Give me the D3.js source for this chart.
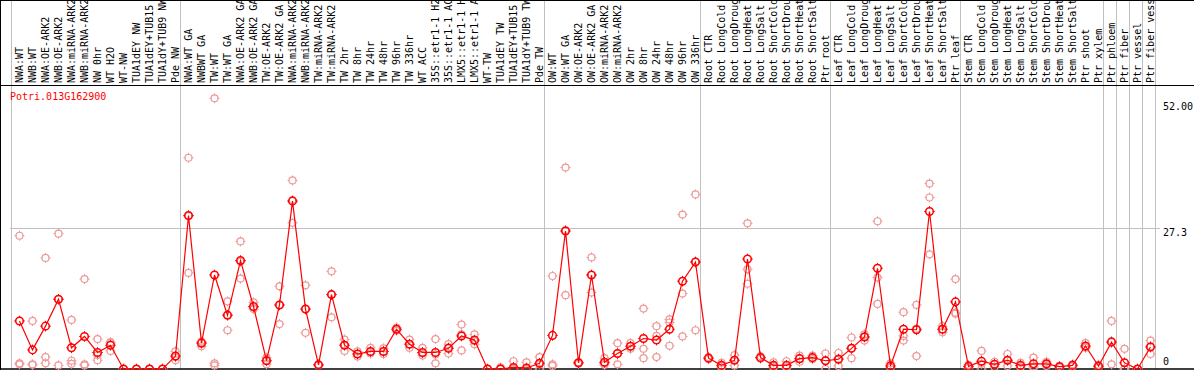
<!DOCTYPE html>
<html>
<head>
<meta charset="utf-8">
<script src="https://cdn.jsdelivr.net/npm/d3@7"></script>
<style>
  body { margin: 0; background: #fff; }
  svg { display: block; }
  text { font-family: "DejaVu Sans Mono", monospace; font-size: 10px; }
</style>
</head>
<body>
<div id="chart"></div>
<script>
const geneName = "Potri.013G162900";

const labels = [
  "NWA:WT", "NWB:WT", "NWA:OE-ARK2", "NWB:OE-ARK2", "NWA:miRNA-ARK2", "NWB:miRNA-ARK2",
  "NW 0hr", "WT H2O", "WT-NW", "TUA1dEY NW", "TUA1dEY+TUB15 NW", "TUA1dY+TUB9 NW", "Pde NW",
  "NWA:WT GA", "NWBWT GA", "TW:WT", "TW:WT GA", "NWA:OE-ARK2 GA", "NWB:OE-ARK2 GA",
  "TW:OE-ARK2", "TW:OE-ARK2 GA", "NWA:miRNA-ARK2 GA", "NWB:miRNA-ARK2 GA", "TW:miRNA-ARK2",
  "TW:miRNA-ARK2 GA", "TW 2hr", "TW 8hr", "TW 24hr", "TW 48hr", "TW 96hr", "TW 336hr",
  "WT ACC", "35S::etr1-1 H2O", "35S::etr1-1 ACC", "LMX5::etr1-1 H2O", "LMX5::etr1-1 ACC",
  "WT-TW", "TUA1dEY TW", "TUA1dEY+TUB15 TW", "TUA1dY+TUB9 TW", "Pde TW",
  "OW:WT", "OW:WT GA", "OW:OE-ARK2", "OW:OE-ARK2 GA", "OW:miRNA-ARK2", "OW:miRNA-ARK2 GA",
  "OW 2hr", "OW 8hr", "OW 24hr", "OW 48hr", "OW 96hr", "OW 336hr",
  "Root CTR", "Root LongCold", "Root LongDrought", "Root LongHeat", "Root LongSalt",
  "Root ShortCold", "Root ShortDrought", "Root ShortHeat", "Root ShortSalt", "Ptr root",
  "Leaf CTR", "Leaf LongCold", "Leaf LongDrought", "Leaf LongHeat", "Leaf LongSalt",
  "Leaf ShortCold", "Leaf ShortDrought", "Leaf ShortHeat", "Leaf ShortSalt", "Ptr leaf",
  "Stem CTR", "Stem LongCold", "Stem LongDrought", "Stem LongHeat", "Stem LongSalt",
  "Stem ShortCold", "Stem ShortDrought", "Stem ShortHeat", "Stem ShortSalt", "Ptr shoot", "Ptr xylem",
  "Ptr phloem", "Ptr fiber", "Ptr vessel", "Ptr fiber vessel"
];

// first column of each group (grey separators)
const groupStarts = [0, 13, 41, 53, 63, 73, 84, 85, 86, 87];

const means = [
  9.3, 3.7, 8.3, 13.5, 4.1, 6.3, 3.2, 4.6, 0, 0, 0, 0, 2.5,
  29.7, 5.0, 18.2, 10.4, 21.0, 12.1, 1.6, 12.4, 32.5, 11.6, 0.8, 14.4, 4.6, 2.9, 3.4, 3.4,
  7.7, 4.8, 3.2, 3.2, 4.0, 6.4, 5.6, 0, 0, 0.3, 0.2, 1.1,
  6.5, 26.7, 1.2, 18.2, 1.3, 3.0, 4.4, 5.9, 5.6, 7.7, 17.0, 20.7,
  2.1, 0.7, 1.7, 21.3, 2.2, 0.7, 0.7, 2.0, 2.2, 1.6,
  1.9, 4.0, 6.2, 19.5, 0.6, 7.7, 7.6, 30.5, 7.7, 13.0,
  0.5, 1.5, 0.9, 1.7, 0.7, 1.0, 1.0, 0.45, 0.7, 4.45, 0.55,
  5.2, 1.2, 0, 4.25
];

const replicates = [
  [25.8, 1.1, 0.9], [9.3, 0.9, 0.8], [21.5, 2.3, 1.1], [26.2, 13.5, 0.7], [9.5, 1.6, 1.0],
  [17.4, 0.9, 0.7], [5.8, 2.7, 1.7], [5.2, 5.0, 3.5], [0, 0, 0], [0, 0, 0], [0, 0, 0],
  [0, 0, 0], [3.4, 2.3, 1.7],
  [40.9, 29.6, 18.6], [5.3, 5.2, 4.4], [52.4, 1.1, 0.7], [13.1, 10.5, 7.5], [24.7, 20.8, 17.5],
  [12.9, 11.9, 11.6], [2.2, 1.7, 0.9], [16.0, 12.4, 8.7], [36.5, 32.7, 28.3], [16.2, 11.6, 7.0],
  [0.9, 0.8, 0.7], [18.9, 14.4, 10.0], [5.7, 4.6, 3.5], [3.4, 2.9, 2.4], [4.1, 3.3, 3.0],
  [4.0, 3.4, 2.9], [8.0, 7.7, 7.4], [5.7, 4.8, 4.1], [4.1, 3.0, 2.6], [5.8, 2.8, 1.1],
  [4.8, 4.2, 3.0], [8.6, 6.7, 3.6], [6.7, 5.4, 4.8], [0, 0, 0], [0.3, 0, 0], [1.5, 0, 0],
  [1.3, 0, 0], [2.3, 0.9, 0],
  [18.0, 0.9, 0.6], [39.0, 26.9, 14.3], [1.3, 1.2, 1.0], [21.6, 18.2, 14.8], [2.1, 1.1, 0.8],
  [5.0, 3.0, 0.9], [5.0, 4.4, 3.9], [11.7, 3.9, 2.1], [8.3, 6.4, 2.3], [9.6, 9.0, 4.5],
  [29.9, 14.6, 6.3], [33.8, 20.8, 7.5],
  [2.3, 2.1, 1.9], [1.2, 0.6, 0.3], [2.7, 1.7, 0.7], [28.2, 19.3, 16.5], [2.5, 2.2, 2.0],
  [1.3, 0.6, 0.3], [1.5, 0.5, 0.2], [2.6, 2.0, 1.4], [2.6, 2.2, 1.9], [3.0, 1.6, 0],
  [3.1, 2.0, 0.6], [6.1, 4.0, 2.1], [6.7, 6.3, 5.5], [28.6, 17.7, 12.6], [1.1, 0.5, 0.3],
  [11.0, 6.4, 5.5], [12.4, 7.8, 2.5], [35.9, 33.2, 22.2], [8.3, 7.7, 7.1], [17.4, 10.9, 10.7],
  [0.8, 0.5, 0.2], [3.5, 1.0, 0], [1.4, 0.9, 0.4], [2.9, 1.6, 0.6], [1.2, 0.6, 0.3],
  [2.2, 0.5, 0.2], [1.4, 0.9, 0.6], [0.6, 0.4, 0.3], [0.9, 0.7, 0.5], [5.0, 4.3, 4.1],
  [0.8, 0.5, 0.3],
  [9.3, 5.4, 0.9], [3.9, 0, 0], [0, 0, 0], [5.5, 4.4, 2.9]
];

const yTickValues = [52, 27.3, 0];
const yTickLabels = ["52.00", "27.3", "0"];

const width = 1194;
const height = 370;
const headerHeight = 85;

const svg = d3
  .select("#chart")
  .append("svg")
  .attr("width", width)
  .attr("height", height);

const x = d3
  .scaleBand()
  .domain(d3.range(labels.length))
  .range([11, 1155]);
const cx = (i) => x(i) + 8.5;

const y = d3.scaleLinear().domain([0, 52]).range([369, 100.4]);

// grey separators between sample groups, full height
svg
  .append("g")
  .selectAll("line")
  .data(groupStarts.concat([labels.length]))
  .join("line")
  .attr("x1", (d) => (d === labels.length ? 1155.5 : x(d) + 0.5))
  .attr("x2", (d) => (d === labels.length ? 1155.5 : x(d) + 0.5))
  .attr("y1", 0)
  .attr("y2", height)
  .attr("stroke", "#c0c0c0");

svg
  .append("line")
  .attr("x1", 10)
  .attr("x2", 1160)
  .attr("y1", Math.round(y(27.3)) + 0.5)
  .attr("y2", Math.round(y(27.3)) + 0.5)
  .attr("stroke", "#c0c0c0");

// frame
svg.append("line").attr("x1", 0).attr("x2", width).attr("y1", 0.5).attr("y2", 0.5).attr("stroke", "#000");
svg.append("line").attr("x1", 0).attr("x2", width).attr("y1", headerHeight + 0.5).attr("y2", headerHeight + 0.5).attr("stroke", "#000");
svg.append("line").attr("x1", 0.5).attr("x2", 0.5).attr("y1", 0).attr("y2", height).attr("stroke", "#000");
svg.append("line").attr("x1", 0).attr("x2", width).attr("y1", y(0)).attr("y2", y(0)).attr("stroke", "#000").attr("stroke-width", 1.5);

// sample names, rotated and clipped to the header
svg
  .append("clipPath")
  .attr("id", "headClip")
  .append("rect")
  .attr("x", 0)
  .attr("y", 0)
  .attr("width", width)
  .attr("height", headerHeight);

svg
  .append("g")
  .attr("clip-path", "url(#headClip)")
  .selectAll("text")
  .data(labels)
  .join("text")
  .attr("transform", (d, i) => `translate(${cx(i) + 3.5}, ${headerHeight - 2}) rotate(-90)`)
  .attr("fill", "#000")
  .text((d) => d);

svg
  .append("text")
  .attr("x", 10)
  .attr("y", 100)
  .attr("fill", "#ff0000")
  .text(geneName);

// right-hand value labels
svg
  .append("g")
  .selectAll("text")
  .data(yTickValues)
  .join("text")
  .attr("x", 1163)
  .attr("y", (d, i) => y(d) + (i === 0 ? 10 : i === 1 ? 8 : -4))
  .attr("fill", "#000")
  .text((d, i) => yTickLabels[i]);

const marker = (g, r, color, sw) => {
  g.append("circle").attr("r", r).attr("fill", "none").attr("stroke", color).attr("stroke-width", sw);
  g.append("path")
    .attr("d", `M0,${-r - 1.5}V${-r + 0.5}M0,${r - 0.5}V${r + 1.5}M${-r - 1.5},0H${-r + 0.5}M${r - 0.5},0H${r + 1.5}`)
    .attr("stroke", color)
    .attr("stroke-width", 1);
};

// replicate values
const repPoints = [];
replicates.forEach((vals, i) => vals.forEach((v) => repPoints.push({ i, v })));

svg
  .append("g")
  .selectAll("g")
  .data(repPoints)
  .join("g")
  .attr("transform", (d) => `translate(${cx(d.i)}, ${y(d.v)})`)
  .each(function () {
    marker(d3.select(this), 3.5, "#ee9a9a", 1.2);
  });

// mean line
svg
  .append("path")
  .attr("fill", "none")
  .attr("stroke", "#ff0000")
  .attr("stroke-width", 1.2)
  .attr(
    "d",
    d3
      .line()
      .x((d, i) => cx(i))
      .y((d) => y(d))(means)
  );

svg
  .append("g")
  .selectAll("g")
  .data(means)
  .join("g")
  .attr("transform", (d, i) => `translate(${cx(i)}, ${y(d)})`)
  .each(function () {
    marker(d3.select(this), 3.8, "#ff0000", 1.5);
  });
</script>
</body>
</html>
